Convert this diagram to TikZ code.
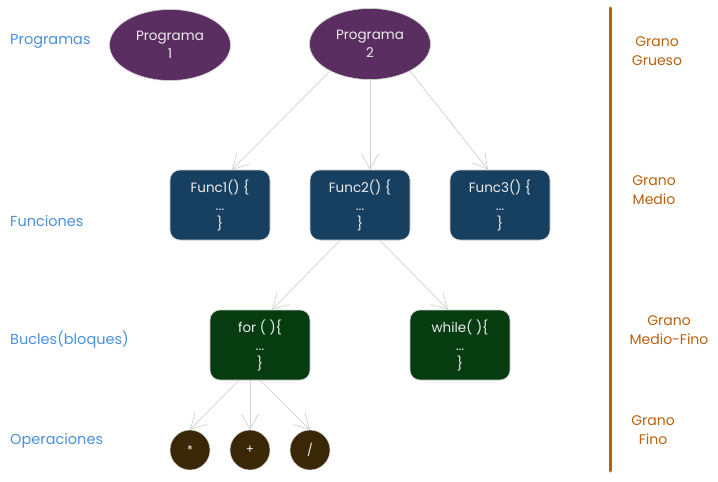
\documentclass[tikz,border=0pt]{standalone}
\usepackage{fontspec}
\setmainfont{Poppins}
\usetikzlibrary{arrows.meta, positioning, shapes.geometric}

\definecolor{morado}{HTML}{5B2E61}
\definecolor{azul}{HTML}{173F60}
\definecolor{verde}{HTML}{073B10}
\definecolor{cafe}{HTML}{3A2706}
\definecolor{celeste}{HTML}{4A90DA}
\definecolor{naranja}{HTML}{B9600C}
\definecolor{gris}{HTML}{D0D0D0}
\definecolor{texto}{HTML}{EDEDED}

\begin{document}
\begin{tikzpicture}[x=1pt, y=-1pt,
  prog/.style={ellipse, fill=morado, draw=gris, line width=0.6pt,
    minimum width=121pt, minimum height=71pt, inner sep=0pt,
    text=texto, align=center, font=\fontsize{13.5}{18}\selectfont},
  caja/.style={rounded corners=10pt, draw=gris, line width=0.6pt,
    minimum width=100pt, minimum height=70pt, inner sep=0pt,
    text=texto, align=center, font=\fontsize{13.5}{18}\selectfont},
  func/.style={caja, fill=azul},
  bucle/.style={caja, fill=verde},
  oper/.style={circle, fill=cafe, draw=gris, line width=0.6pt,
    minimum size=40pt, inner sep=0pt, text=texto, font=\fontsize{12}{14}\selectfont},
  nivel/.style={anchor=west, inner sep=0pt, text=celeste, font=\fontsize{14.5}{16}\selectfont},
  grano/.style={align=center, inner sep=0pt, text=naranja, font=\fontsize{14}{19}\selectfont},
  flecha/.style={draw=gris, line width=0.7pt, -{Straight Barb[length=15pt,width=17pt]}}
]
  \useasboundingbox (0,0) rectangle (718,482);

  % Programas
  \node[prog] (prog1) at (170,45) {Programa\\1};
  \node[prog] (prog2) at (370,44) {Programa\\2};

  % Funciones
  \node[func] (func1) at (220,205) {Func1() \{\\...\\\}};
  \node[func] (func2) at (360,205) {Func2() \{\\...\\\}};
  \node[func] (func3) at (500,205) {Func3() \{\\...\\\}};

  % Bucles
  \node[bucle] (buclefor) at (260,345) {for ( )\{\\...\\\}};
  \node[bucle] (buclewhile) at (460,345) {while( )\{\\...\\\}};

  % Operaciones
  \foreach \x/\op [count=\i] in {190/*, 250/+, 310/{/}} {
    \node[oper] (op\i) at (\x,450) {\op};
  }

  % Flechas
  \draw[flecha] (prog2.214) -- ([xshift=12pt]func1.north);
  \draw[flecha] (prog2.south) -- ([xshift=10pt]func2.north);
  \draw[flecha] (prog2.326) -- ([xshift=-12pt]func3.north);
  \draw[flecha] ([xshift=-20pt]func2.south) -- ([xshift=12pt]buclefor.north);
  \draw[flecha] ([xshift=20pt]func2.south) -- ([xshift=-12pt]buclewhile.north);
  \foreach \i/\s in {1/-21, 2/-10, 3/0} {
    \draw[flecha] ([xshift=\s pt]buclefor.south) -- (op\i.north);
  }

  % Niveles
  \node[nivel] (nprog) at (10,41) {Programas};
  \node[nivel] (nfunc) at (10,221) {Funciones};
  \node[nivel] (nbucle) at (10,340) {Bucles(bloques)};
  \node[nivel] (noper) at (10,441) {Operaciones};

  % Granularidad
  \draw[naranja, line width=3pt, line cap=round] (610,8) -- (610,471);
  \node[grano] (g1) at (657,51) {Grano\\Grueso};
  \node[grano] (g2) at (654,190) {Grano\\Medio};
  \node[grano] (g3) at (669,330) {Grano\\Medio-Fino};
  \node[grano] (g4) at (653,430) {Grano\\Fino};
\end{tikzpicture}
\end{document}
